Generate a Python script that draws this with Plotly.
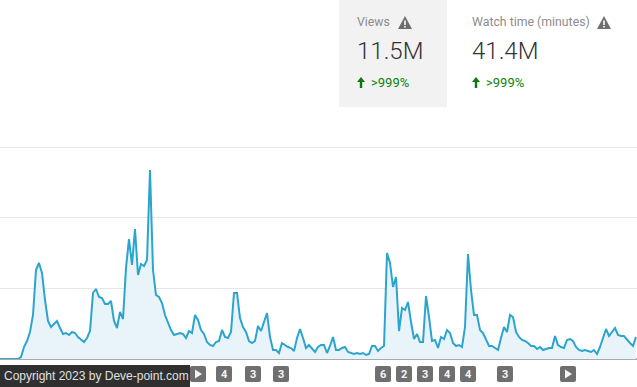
import plotly.graph_objects as go

W, H = 637, 387

views = [0, 0, 0, 0, 0, 0, 0, 2, 12, 18, 27, 44, 89, 96, 86, 59, 38, 32, 35, 38, 31, 25, 26, 24, 27, 26, 22, 19, 17, 21,
         28, 66, 70, 62, 61, 55, 55, 58, 38, 31, 47, 40, 91, 120, 94, 130, 84, 95, 93, 99, 189, 89, 64, 62, 56, 44, 36, 29, 24, 25,
         26, 25, 21, 28, 26, 44, 39, 29, 25, 17, 14, 13, 17, 18, 29, 22, 21, 27, 66, 66, 41, 32, 27, 18, 16, 18, 33, 28, 36, 46,
         22, 9, 9, 6, 16, 14, 12, 11, 8, 21, 30, 21, 11, 14, 10, 7, 12, 14, 14, 6, 13, 22, 9, 9, 11, 12, 7, 6, 5, 6,
         5, 6, 4, 5, 13, 13, 8, 11, 13, 106, 96, 72, 82, 28, 51, 49, 57, 37, 20, 25, 17, 17, 63, 42, 18, 19, 11, 22, 20, 29,
         26, 16, 13, 14, 12, 32, 105, 69, 44, 44, 29, 26, 19, 13, 13, 11, 9, 21, 32, 27, 44, 42, 27, 22, 19, 18, 16, 13, 13, 10,
         12, 9, 10, 11, 11, 23, 14, 12, 11, 19, 20, 18, 12, 9, 8, 9, 8, 7, 9, 5, 12, 22, 30, 23, 27, 31, 24, 23, 23, 19,
         16, 13, 22]
days = list(range(len(views)))
grid_values = [71, 142, 212]

metric_titles = ["Views", "Watch time (minutes)"]
metric_values = ["11.5M", "41.4M"]
metric_changes = [">999%", ">999%"]
badge_labels = ["", "4", "3", "3", "6", "2", "3", "4", "4", "3", ""]
copyright_text = "Copyright 2023 by Deve-point.com"

badge_x = [198, 224, 253, 281, 383, 404, 425, 447, 468, 505, 568]


def px(x):
    return x / W


def py(y):
    return 1 - y / H


fig = go.Figure()
fig.add_trace(go.Scatter(x=days, y=views, mode="lines",
                         line=dict(color="#2ba5cd", width=2),
                         fill="tozeroy", fillcolor="#e9f4fa",
                         hoverinfo="skip", showlegend=False))

shapes = []
annotations = []


def rect(x0, y0, x1, y1, color, layer="below"):
    shapes.append(dict(type="rect", xref="paper", yref="paper", x0=px(x0), x1=px(x1), y0=py(y1), y1=py(y0),
                       fillcolor=color, line_width=0, layer=layer))


def poly(points, color, layer="above"):
    path = "M " + " L ".join(f"{px(a):.5f},{py(b):.5f}" for a, b in points) + " Z"
    shapes.append(dict(type="path", xref="paper", yref="paper", path=path, fillcolor=color, line_width=0, layer=layer))


def text(x, y, s, size, color, family="Roboto", anchor="left", weight=400):
    annotations.append(dict(xref="paper", yref="paper", x=px(x), y=py(y), text=s, showarrow=False,
                            xanchor=anchor, yanchor="middle", borderpad=0, borderwidth=0,
                            font=dict(size=size, color=color, family=family, weight=weight)))


rect(339, 0, 447, 107, "#f2f2f2")

card_x = [357, 472]
tri_x = [405, 604]
for cx, tx, title, value, change in zip(card_x, tri_x, metric_titles, metric_values, metric_changes):
    text(cx, 22.5, title, 12.3, "#8c8c8c")
    text(cx, 51, value, 24, "#333333", weight=300)
    text(cx + 14, 82.5, change, 13, "#0a830a")
    poly([(tx, 16), (tx + 7, 29), (tx - 7, 29)], "#6e6e6e")
    rect(tx - 0.8, 20.5, tx + 0.8, 25, "#ffffff", layer="above")
    rect(tx - 0.8, 26, tx + 0.8, 27.5, "#ffffff", layer="above")
    ax = cx + 4
    poly([(ax, 77), (ax + 4, 82), (ax + 1.2, 82), (ax + 1.2, 88), (ax - 1.2, 88), (ax - 1.2, 82), (ax - 4, 82)], "#0a7a0a")

# copyright bar
rect(0, 365, 190, 387, "#2f2f2f", layer="above")
text(4, 375.5, copyright_text, 12, "#e0e0e0", family="Liberation Sans")

# event badges
for bx, label in zip(badge_x, badge_labels):
    x0, x1, y0, y1, r = bx - 8, bx + 8, 366, 382, 2
    path = (f"M {px(x0 + r)},{py(y0)} L {px(x1 - r)},{py(y0)} Q {px(x1)},{py(y0)} {px(x1)},{py(y0 + r)} "
            f"L {px(x1)},{py(y1 - r)} Q {px(x1)},{py(y1)} {px(x1 - r)},{py(y1)} L {px(x0 + r)},{py(y1)} "
            f"Q {px(x0)},{py(y1)} {px(x0)},{py(y1 - r)} L {px(x0)},{py(y0 + r)} Q {px(x0)},{py(y0)} {px(x0 + r)},{py(y0)} Z")
    shapes.append(dict(type="path", xref="paper", yref="paper", path=path, fillcolor="#6f6f6f", line_width=0, layer="above"))
    if label:
        text(bx, 374.5, f"<b>{label}</b>", 11, "#f5f5f5", anchor="center")
    else:
        poly([(bx - 3, 369.5), (bx + 4, 374), (bx - 3, 378.5)], "#f5f5f5")

fig.update_layout(
    width=W, height=H,
    margin=dict(l=0, r=0, t=0, b=0),
    paper_bgcolor="#ffffff", plot_bgcolor="rgba(0,0,0,0)",
    shapes=shapes, annotations=annotations,
    xaxis=dict(range=[0, 212.33], showgrid=False, zeroline=False, showticklabels=False, ticks="", fixedrange=True),
    yaxis=dict(domain=[28 / H, 1], range=[0, 359], tickmode="array", tickvals=grid_values, showgrid=True,
               gridcolor="#e6e6e6", gridwidth=1,
               zeroline=True, zerolinecolor="#aaaaaa", zerolinewidth=1.5,
               showticklabels=False, ticks="", fixedrange=True),
)

fig.write_html("out.html", config=dict(displayModeBar=False),
               post_script="document.body.style.margin='0';document.documentElement.style.overflow='hidden';")
